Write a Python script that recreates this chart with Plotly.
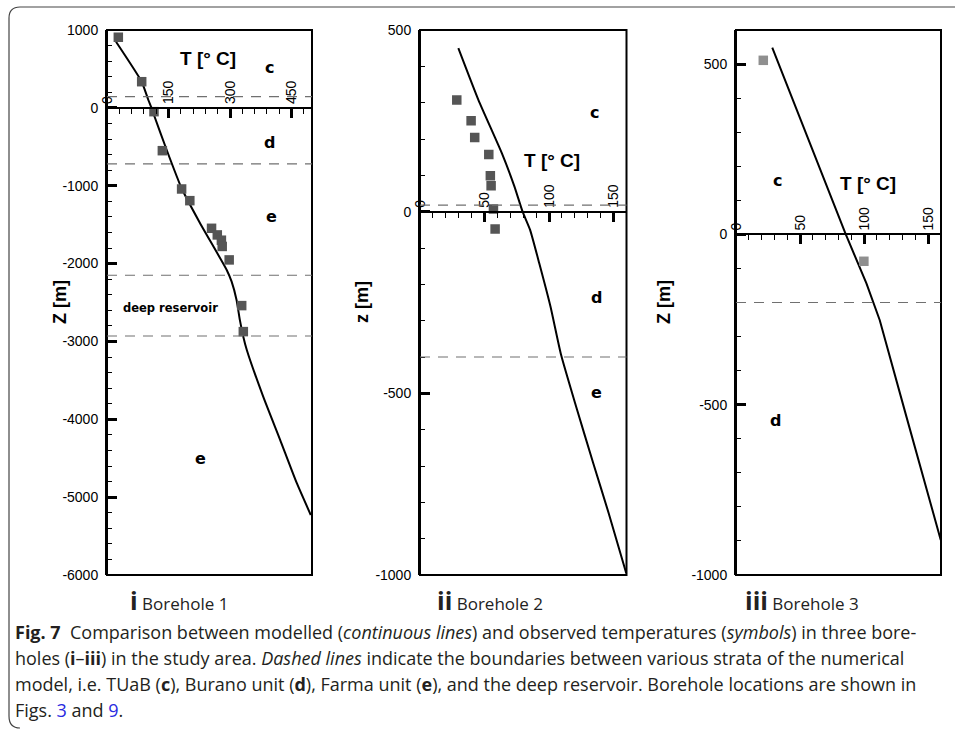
import plotly.graph_objects as go

W, H = 955, 729

# ---------------- data ----------------
# Borehole 1 (panel i)
b1_model_T = [22, 84.6, 100.8, 109, 113, 145.6, 182, 227, 292, 304, 316, 324, 332, 341, 381, 422, 463, 497]
b1_model_z = [850, 336, 101, -5, -69, -541, -1033, -1482, -2082, -2232, -2467, -2724, -2929, -3110, -3709, -4260, -4821, -5229]
b1_obs_T = [27.6, 84.6, 114.6, 135, 182, 202, 255, 269, 279, 281, 298, 328.5, 332.5]
b1_obs_z = [907, 336, -49, -550, -1042, -1192, -1547, -1632, -1700, -1780, -1953, -2540, -2874]
b1_bounds = [145, -720, -2150, -2930]

# Borehole 2 (panel ii)
b2_model_T = [29.7, 45.3, 63.4, 73.2, 79.5, 85.3, 92.4, 101.1, 109.3, 121, 134.3, 146.2, 159.8]
b2_model_z = [450, 307, 161, 69, 0, -50, -142, -261, -394, -537, -693, -830, -995]
b2_obs_T = [28.5, 39.6, 42.4, 53.3, 54.5, 55.1, 56.9, 58.2]
b2_obs_z = [307, 250, 204, 157, 99, 71, 7, -48]
b2_bounds = [18, -400]

# Borehole 3 (panel iii)
b3_model_T = [28.3, 85.7, 101.8, 112.2, 133, 159.8]
b3_model_z = [548, 0, -144, -252, -535, -897]
b3_obs_T = [21.3, 99.8]
b3_obs_z = [511, -79]
b3_bounds = [-200]

# axis settings
x_ranges = [[0, 500], [0, 160], [0, 160]]
y_ranges = [[-6000, 1000], [-1000, 500], [-1000, 600]]
x_dticks = [150, 50, 50]
x_minor = [30, 10, 10]
y_minor = [200, 100, 100]
y_tickvals = [[1000, 0, -1000, -2000, -3000, -4000, -5000, -6000],
              [500, 0, -500, -1000],
              [500, 0, -500, -1000]]
y_ticktext = [["1000", "0", "-1000", "-2000", "-3000", "-4000", "-5000", "-6000"],
              ["500", "0", "-500", "-1000"],
              ["500", "0", "-500", "-1000"]]
y_titles = ["Z [m]", "z [m]", "Z [m]"]
sub_roman = ["i", "ii", "iii"]
sub_names = ["Borehole 1", "Borehole 2", "Borehole 3"]

# region labels (T, z, text)
labels = [
    [(397, 512, "c"), (397, -440, "d"), (402, -1400, "e"), (227, -4500, "e")],
    [(135, 274, "c"), (136.5, -237, "d"), (136.5, -499, "e")],
    [(32, 159, "c"), (31, -545, "d")],
]
deep_label = (154, -2570, "deep reservoir")
t_label_pos = [(246, 640), (102, 142), (103, 150)]
line_shapes = ["spline", "spline", "linear"]

# ---------------- layout geometry (pixels) ----------------
x_px = [(107, 312), (420, 626.5), (736, 941)]
y_px = (30, 575)
title_x_px = [48, 362, 676]
sub_x_px = [179, 490, 802]

def px2x(p):
    return p / W

def px2y(p):
    return 1 - p / H

models = [(b1_model_T, b1_model_z), (b2_model_T, b2_model_z), (b3_model_T, b3_model_z)]
obs = [(b1_obs_T, b1_obs_z), (b2_obs_T, b2_obs_z), (b3_obs_T, b3_obs_z)]
bounds = [b1_bounds, b2_bounds, b3_bounds]
obs_colors = ["#555555", "#555555", "#8f8f8f"]

fig = go.Figure()
annotations = []
shapes = []

ybot, ytop = px2y(y_px[1]), px2y(y_px[0])
tickfont = dict(family="Liberation Sans, Arial, sans-serif", size=14, color="black")

for i in range(3):
    sfx = "" if i == 0 else str(i + 1)
    xa, ya = "x" + sfx, "y" + sfx
    fig.add_trace(go.Scatter(x=models[i][0], y=models[i][1], mode="lines",
                             line=dict(color="black", width=2, shape=line_shapes[i], smoothing=0.5),
                             xaxis=xa, yaxis=ya, showlegend=False, hoverinfo="skip"))
    fig.add_trace(go.Scatter(x=obs[i][0], y=obs[i][1], mode="markers",
                             marker=dict(symbol="square", size=9.5, color=obs_colors[i]),
                             xaxis=xa, yaxis=ya, showlegend=False))
    yr = y_ranges[i]
    zero_pos = ybot + (0 - yr[0]) / (yr[1] - yr[0]) * (ytop - ybot)
    fig.update_layout(**{
        "xaxis" + sfx: dict(
            domain=[px2x(x_px[i][0]), px2x(x_px[i][1])],
            range=x_ranges[i], anchor="free", position=zero_pos, side="top",
            showline=True, linecolor="black", linewidth=2,
            ticks="inside", ticklen=9, tickwidth=2.5, tickcolor="black",
            dtick=x_dticks[i], tick0=0, tickangle=-90, tickfont=tickfont,
            minor=dict(dtick=x_minor[i], tick0=0, ticks="inside", ticklen=5, tickwidth=1,
                       tickcolor="black", showgrid=False),
            showgrid=False, zeroline=False, fixedrange=True, automargin=False,
        ),
        "yaxis" + sfx: dict(
            domain=[ybot, ytop], range=yr, anchor=xa,
            showline=True, linecolor="black", linewidth=2,
            ticks="inside", ticklen=10, tickwidth=2.5, tickcolor="black",
            tickmode="array", tickvals=y_tickvals[i], ticktext=y_ticktext[i],
            tickfont=tickfont, ticklabelstandoff=4,
            minor=dict(tickmode="linear", dtick=y_minor[i], tick0=0, ticks="inside", ticklen=5,
                       tickwidth=1, tickcolor="black", showgrid=False),
            showgrid=False, zeroline=False, fixedrange=True, automargin=False,
        ),
    })
    shapes.append(dict(type="rect", xref=xa + " domain", yref=ya + " domain", x0=0, x1=1, y0=0, y1=1,
                       line=dict(color="black", width=2)))
    for b in bounds[i]:
        shapes.append(dict(type="line", xref=xa + " domain", yref=ya, x0=0, x1=1, y0=b, y1=b,
                           line=dict(color="#707070", width=1.2, dash="10px,8px")))
    for (tx, tz, txt) in labels[i]:
        annotations.append(dict(x=tx, y=tz, xref=xa, yref=ya, text="<b>%s</b>" % txt, showarrow=False,
                                font=dict(family="DejaVu Sans, sans-serif", size=16, color="black")))
    annotations.append(dict(x=t_label_pos[i][0], y=t_label_pos[i][1], xref=xa, yref=ya,
                            text="<b>T [° C]</b>", showarrow=False,
                            font=dict(family="Liberation Sans, Arial, sans-serif", size=19, color="black")))
    annotations.append(dict(x=px2x(title_x_px[i]), y=px2y(302), xref="paper", yref="paper",
                            text="<b>%s</b>" % y_titles[i], textangle=-90, showarrow=False,
                            font=dict(family="Liberation Sans, Arial, sans-serif", size=18, color="black")))
    annotations.append(dict(x=px2x(sub_x_px[i]), y=px2y(600), xref="paper", yref="paper",
                            text="<span style='font-size:25px'><b>%s</b></span> %s" % (sub_roman[i], sub_names[i]),
                            showarrow=False, xanchor="center", yanchor="middle",
                            font=dict(family="Open Sans, sans-serif", size=17, color="#222")))

annotations.append(dict(x=deep_label[0], y=deep_label[1], xref="x", yref="y", text="<b>%s</b>" % deep_label[2],
                        showarrow=False, font=dict(family="DejaVu Sans, sans-serif", size=11.5, color="black")))

caption_lines = [
    "<b>Fig. 7</b>  Comparison between modelled (<i>continuous lines</i>) and observed temperatures (<i>symbols</i>) in three bore-",
    "holes (<b>i</b>–<b>iii</b>) in the study area. <i>Dashed lines</i> indicate the boundaries between various strata of the numerical",
    "model, i.e. TUaB (<b>c</b>), Burano unit (<b>d</b>), Farma unit (<b>e</b>), and the deep reservoir. Borehole locations are shown in",
    "Figs. <span style='color:#2a2ae0'>3</span> and <span style='color:#2a2ae0'>9</span>.",
]
cap_y = [632, 658, 684, 710]
for line, cy in zip(caption_lines, cap_y):
    annotations.append(dict(x=px2x(13), y=px2y(cy), xref="paper", yref="paper", text=line,
                            showarrow=False, xanchor="left", yanchor="middle",
                            font=dict(family="Open Sans, sans-serif", size=18, color="#231f20")))

frame = "M %f,%f L %f,%f Q %f,%f %f,%f L %f,%f Q %f,%f %f,%f" % (
    px2x(956), px2y(7), px2x(20), px2y(7), px2x(9), px2y(7), px2x(9), px2y(18),
    px2x(9), px2y(716), px2x(9), px2y(728), px2x(20), px2y(728))
shapes.append(dict(type="path", xref="paper", yref="paper", path=frame,
                   line=dict(color="#444444", width=1.2)))

fig.update_layout(width=W, height=H, autosize=False,
                  margin=dict(l=0, r=0, t=0, b=0, autoexpand=False),
                  paper_bgcolor="white", plot_bgcolor="white",
                  shapes=shapes, annotations=annotations, showlegend=False)

fig.write_html("out.html")
